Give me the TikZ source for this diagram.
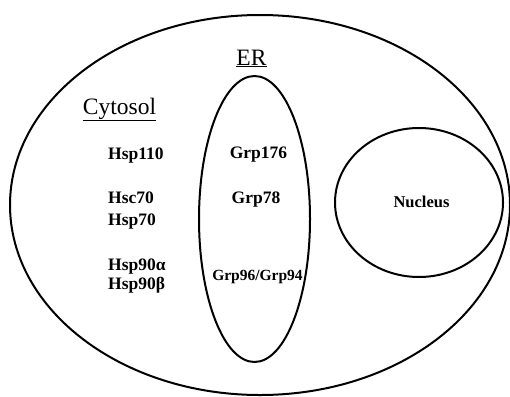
\documentclass[tikz,border=0pt]{standalone}
\usepackage{fontspec}
\setmainfont{Liberation Serif}
\usepackage{tikz}
\usetikzlibrary{shapes.geometric}
\tikzset{
  membrane/.style={ellipse, draw=black, line width=2pt, inner sep=0pt},
  compart/.style={anchor=base, font=\fontsize{23.5}{26}\selectfont, inner sep=1pt},
  prot/.style={anchor=base, font=\fontsize{17.5}{20}\selectfont\bfseries, inner sep=1pt},
}

\begin{document}
\begin{tikzpicture}[x=1pt,y=-1pt]
    \useasboundingbox (0,0) rectangle (510,396);
    \node[membrane, minimum width=500pt, minimum height=380pt] (cell) at (260,205) {};
    \node[membrane, minimum width=111pt, minimum height=286pt] (er) at (254.5,219) {};
    \node[membrane, minimum width=168pt, minimum height=149pt] (nuc) at (419,202.5) {};
    \node[compart] (ertitle) at (251.5,65) {\underline{ER}};
    \node[compart] (cyto) at (119.5,114) {\underline{Cytosol}};
    \node[prot, anchor=base west] (hsp110) at (107,159) {Hsp110};
    \node[prot, anchor=base west] (hsc70) at (107,203) {Hsc70};
    \node[prot, anchor=base west] (hsp70) at (107,225) {Hsp70};
    \node[prot, anchor=base west] (hsp90a) at (107,270) {Hsp90α};
    \node[prot, anchor=base west] (hsp90b) at (107,289) {Hsp90β};
    \node[prot] (grp176) at (258.5,158) {Grp176};
    \node[prot] (grp78) at (256,203) {Grp78};
    \node[prot, font=\fontsize{15.5}{18}\selectfont\bfseries] (grp96) at (257.5,280) {Grp96/Grp94};
    \node[prot, font=\fontsize{16.5}{18}\selectfont\bfseries] (nucleus) at (421.5,207) {Nucleus};
\end{tikzpicture}
\end{document}
